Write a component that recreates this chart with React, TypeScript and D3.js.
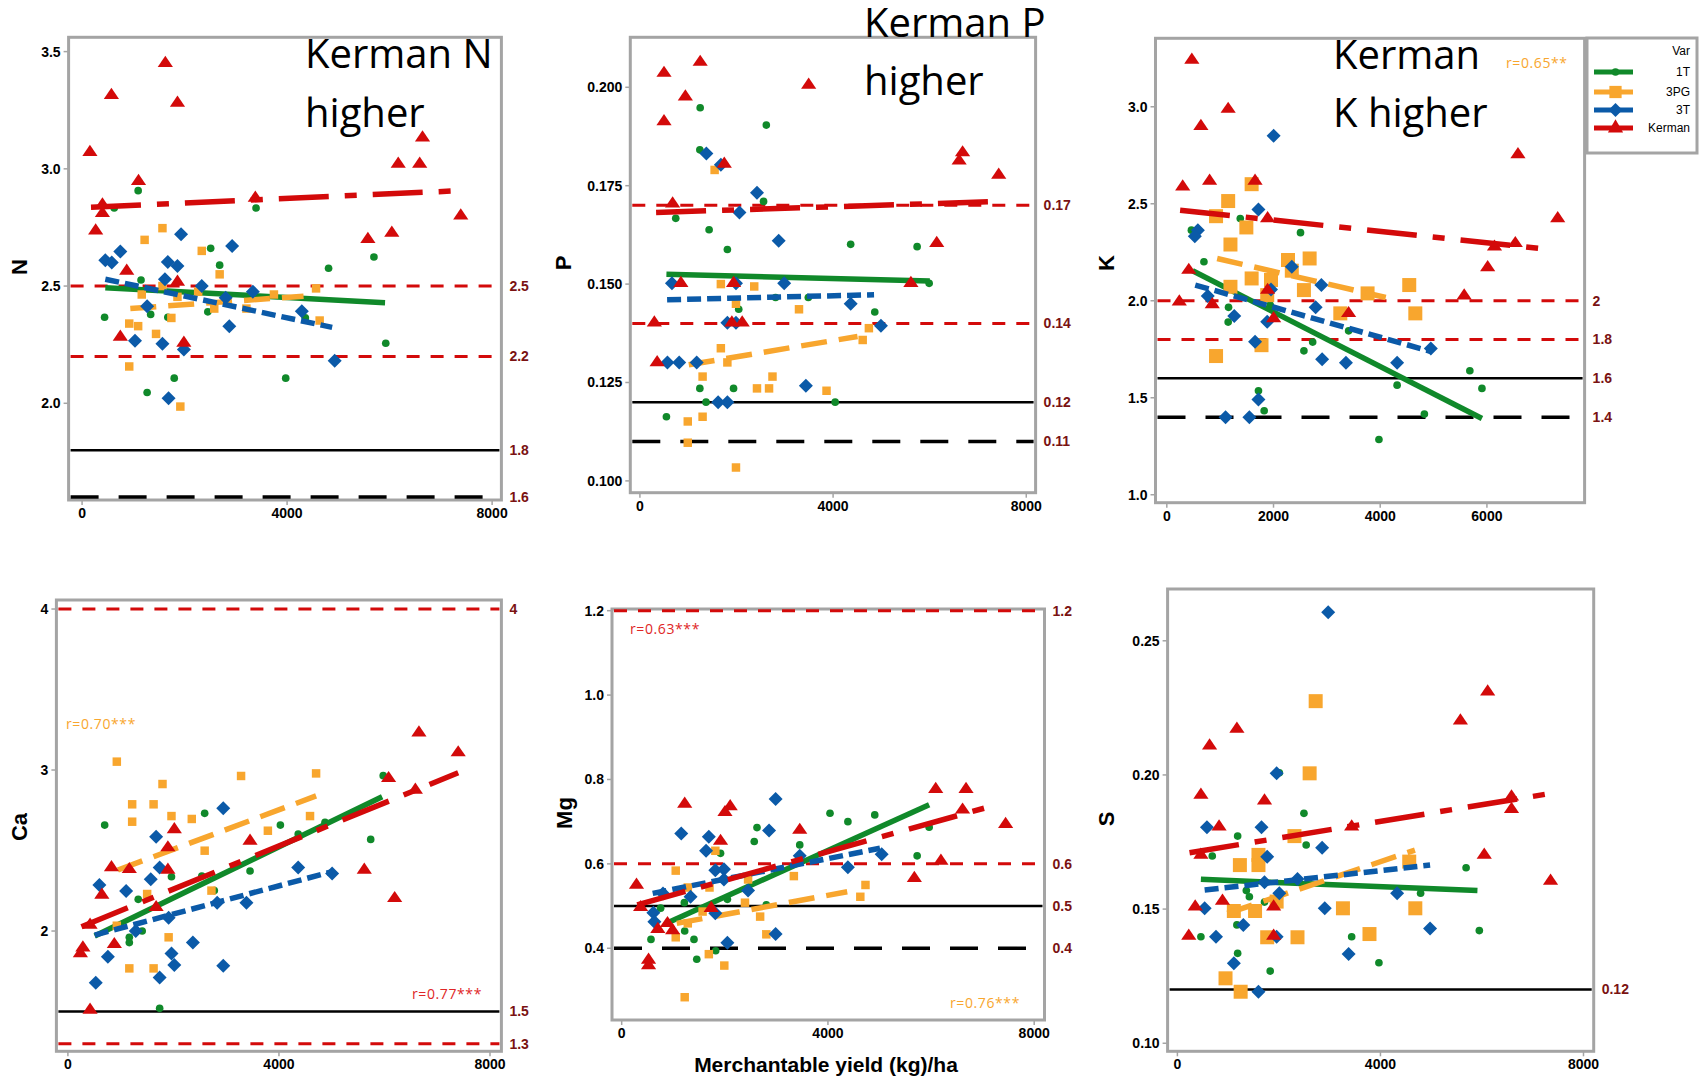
import React from "react"
import * as d3 from "d3"

// colours of the four varieties
const GREEN = "#10892a"
const ORANGE = "#f8a62e"
const BLUE = "#0b5aa8"
const RED = "#d30a0a"
const REFLABEL = "#7a1212"

const varieties = ["1T", "3PG", "3T", "Kerman"]
const xTicks = [0, 4000, 8000]
const xTicksK = [0, 2000, 4000, 6000]

// ---- N ----
const nT1 = [[1094, 2.907], [627, 2.833], [3394, 2.833], [2509, 2.661], [2684, 2.589], [4809, 2.576], [5694, 2.624], [1150, 2.526], [439, 2.367], [1338, 2.379], [1673, 2.367], [2453, 2.39], [4356, 2.364], [5925, 2.256], [1798, 2.107], [3973, 2.107], [1269, 2.046]]
const nPG = [[1568, 2.747], [1220, 2.697], [2335, 2.65], [2684, 2.55], [1568, 2.5], [1164, 2.464], [1861, 2.454], [2265, 2.476], [1742, 2.364], [920, 2.34], [1094, 2.329], [1443, 2.296], [2579, 2.404], [3206, 2.404], [3743, 2.464], [4565, 2.49], [4635, 2.353], [920, 2.157], [1917, 1.986]]
const nT3 = [[453, 2.61], [579, 2.6], [746, 2.647], [1931, 2.721], [2927, 2.671], [1673, 2.603], [1861, 2.586], [1617, 2.529], [2335, 2.5], [3332, 2.476], [2802, 2.45], [1269, 2.414], [4287, 2.393], [1032, 2.267], [1568, 2.254], [1986, 2.229], [2872, 2.329], [4928, 2.181], [1687, 2.021]]
const nKer = [[1624, 3.45], [572, 3.314], [1861, 3.281], [153, 3.071], [1101, 2.947], [6642, 3.133], [6168, 3.021], [6587, 3.021], [397, 2.847], [397, 2.81], [265, 2.736], [3380, 2.876], [7388, 2.8], [5576, 2.7], [6043, 2.726], [871, 2.564], [1861, 2.517], [746, 2.283], [1986, 2.257]]
const nFits = [[453, 2.493, 5911, 2.429], [941, 2.404, 4321, 2.457], [453, 2.529, 4879, 2.324], [174, 2.836, 7388, 2.907]]

// ---- P ----
const pT1 = [[1248, 0.1948], [2617, 0.1904], [1241, 0.1841], [2560, 0.171], [742, 0.1667], [1433, 0.1638], [1811, 0.1588], [4364, 0.1601], [5740, 0.1595], [5989, 0.1502], [2809, 0.1466], [3487, 0.1466], [2046, 0.1436], [4863, 0.1429], [1241, 0.1235], [1939, 0.1235], [1369, 0.12], [4043, 0.12], [549, 0.1163]]
const pPG = [[1547, 0.179], [1676, 0.15], [2367, 0.1494], [1989, 0.145], [3294, 0.1436], [4741, 0.1388], [4613, 0.1358], [1676, 0.1337], [1811, 0.1301], [1298, 0.1265], [2745, 0.1265], [2424, 0.1235], [2674, 0.1235], [3864, 0.1229], [991, 0.1151], [1298, 0.1163], [991, 0.1097], [1989, 0.1034]]
const pT3 = [[1376, 0.1832], [1676, 0.1803], [2424, 0.1732], [2061, 0.1682], [2873, 0.161], [663, 0.1502], [1989, 0.1502], [2987, 0.1502], [4364, 0.145], [1811, 0.1402], [1989, 0.1402], [4991, 0.1394], [570, 0.1301], [813, 0.1301], [1176, 0.1301], [3437, 0.1242], [1619, 0.12], [1811, 0.12]]
const pKer = [[1248, 0.2064], [499, 0.2036], [941, 0.1976], [499, 0.1913], [3494, 0.2006], [1747, 0.1805], [6681, 0.1834], [6610, 0.1813], [7429, 0.1777], [677, 0.1704], [6146, 0.1604], [848, 0.1502], [1939, 0.1502], [5611, 0.1502], [299, 0.1402], [1904, 0.1402], [2118, 0.1402], [357, 0.1301]]
const pFits = [[549, 0.1525, 6003, 0.1508], [1012, 0.1295, 4506, 0.1367], [563, 0.146, 4848, 0.1473], [335, 0.1682, 7429, 0.171]]

// ---- K ----
const kT1 = [[461, 2.364], [696, 2.201], [1377, 2.424], [2506, 2.351], [1157, 1.966], [1150, 1.89], [1938, 1.978], [3408, 1.845], [2734, 1.787], [2570, 1.742], [1718, 1.536], [1825, 1.433], [4317, 1.565], [5680, 1.639], [5907, 1.548], [4828, 1.416], [3976, 1.285]]
const kPG = [[1590, 2.601], [1150, 2.514], [923, 2.436], [1491, 2.378], [1193, 2.29], [2272, 2.21], [2677, 2.218], [2343, 2.155], [1590, 2.115], [1953, 2.107], [1193, 2.072], [1882, 2.029], [2570, 2.055], [3763, 2.038], [4544, 2.081], [4658, 1.935], [3252, 1.935], [1775, 1.771], [923, 1.715]]
const kT3 = [[2002, 2.85], [1718, 2.471], [582, 2.364], [525, 2.333], [2343, 2.175], [2897, 2.081], [767, 2.024], [1953, 2.058], [2790, 1.966], [1264, 1.921], [1882, 1.892], [1654, 1.789], [2911, 1.698], [3358, 1.68], [4317, 1.68], [4949, 1.754], [1718, 1.491], [1101, 1.399], [1548, 1.399]]
const kKer = [[469, 3.241], [1150, 2.988], [639, 2.9], [298, 2.588], [802, 2.617], [1654, 2.617], [6582, 2.754], [7327, 2.424], [1889, 2.424], [412, 2.158], [234, 1.995], [852, 1.981], [1889, 2.055], [2002, 1.909], [3408, 1.935], [5574, 2.026], [6014, 2.172], [6142, 2.278], [6532, 2.296]]
const kFits = [[483, 2.155, 5907, 1.393], [944, 2.218, 4104, 2.017], [533, 2.081, 4970, 1.737], [249, 2.467, 7171, 2.265]]

// ---- Ca ----
const caT1 = [[5976, 2.965], [2592, 2.731], [4027, 2.658], [697, 2.658], [4365, 2.602], [4873, 2.675], [5739, 2.569], [3452, 2.373], [2538, 2.342], [1963, 2.337], [2775, 2.251], [1333, 2.197], [1408, 2.0], [1164, 1.961], [1164, 1.928], [1739, 1.52]]
const caPG = [[927, 3.052], [1793, 2.913], [3282, 2.963], [4704, 2.979], [1218, 2.787], [1624, 2.787], [1218, 2.679], [1963, 2.714], [2348, 2.696], [4589, 2.714], [3790, 2.623], [2592, 2.499], [2721, 2.251], [1502, 2.23], [927, 2.033], [1909, 1.961], [1164, 1.768], [1624, 1.768]]
const caT3 = [[2944, 2.762], [1672, 2.586], [4365, 2.395], [5008, 2.358], [1739, 2.395], [1570, 2.321], [596, 2.286], [1103, 2.248], [2829, 2.176], [3384, 2.176], [1909, 2.083], [1286, 2.0], [758, 1.841], [2369, 1.928], [1963, 1.861], [2017, 1.789], [2944, 1.785], [1739, 1.712], [528, 1.679]]
const caKer = [[6653, 3.232], [7397, 3.108], [6078, 2.948], [6585, 2.876], [2017, 2.631], [1895, 2.518], [3452, 2.559], [826, 2.395], [1164, 2.383], [1895, 2.379], [5617, 2.379], [643, 2.224], [6193, 2.203], [1672, 2.147], [420, 2.037], [880, 1.917], [284, 1.896], [237, 1.861], [420, 1.509]]
const caFits = [[508, 1.969, 5956, 2.834], [948, 2.379, 4704, 2.839], [508, 1.975, 5008, 2.369], [257, 2.027, 7397, 2.983]]

// ---- Mg ----
const mgT1 = [[4040, 0.72], [4387, 0.7], [4908, 0.716], [2624, 0.686], [2571, 0.653], [3453, 0.645], [5963, 0.687], [5730, 0.619], [1917, 0.625], [1215, 0.508], [2050, 0.516], [2805, 0.503], [755, 0.495], [1222, 0.441], [568, 0.421], [1402, 0.421], [1823, 0.394], [1456, 0.374]]
const mgPG = [[1816, 0.631], [1048, 0.584], [1282, 0.544], [1703, 0.544], [2451, 0.563], [3339, 0.571], [4728, 0.55], [4628, 0.522], [2391, 0.508], [1569, 0.487], [1282, 0.459], [2685, 0.475], [1048, 0.426], [2805, 0.433], [1690, 0.386], [1990, 0.359], [1222, 0.284]]
const mgT3 = [[2985, 0.754], [1155, 0.672], [1690, 0.664], [2858, 0.679], [1636, 0.631], [3453, 0.619], [5042, 0.623], [4387, 0.592], [1816, 0.585], [1983, 0.587], [1983, 0.563], [2451, 0.537], [1336, 0.522], [801, 0.53], [614, 0.484], [1816, 0.483], [634, 0.463], [2050, 0.413], [2985, 0.434]]
const mgKer = [[6090, 0.777], [6678, 0.777], [6611, 0.728], [7446, 0.694], [1222, 0.742], [2003, 0.722], [2104, 0.736], [3453, 0.68], [1917, 0.654], [6191, 0.607], [5676, 0.566], [287, 0.55], [367, 0.497], [1736, 0.495], [701, 0.445], [888, 0.459], [988, 0.442], [521, 0.372], [521, 0.359]]
const mgFits = [[935, 0.463, 5963, 0.74], [1068, 0.459, 4374, 0.534], [601, 0.53, 5009, 0.637], [301, 0.503, 7179, 0.737]]

// ---- S ----
const sT1 = [[2493, 0.1857], [1187, 0.1772], [2537, 0.1739], [687, 0.1698], [5687, 0.1654], [1358, 0.1569], [1418, 0.1546], [4791, 0.1559], [1716, 0.1526], [1172, 0.1441], [463, 0.1397], [3433, 0.1397], [5948, 0.142], [1187, 0.1335], [3970, 0.13], [1828, 0.1269], [2008, 0.2008]]
const sPG = [[2724, 0.2275], [2605, 0.2006], [2306, 0.1772], [1231, 0.1664], [1597, 0.1702], [1597, 0.1664], [4567, 0.1677], [1955, 0.1528], [1112, 0.1493], [1530, 0.1493], [3261, 0.1503], [4687, 0.1503], [1769, 0.1395], [2366, 0.1395], [3784, 0.1407], [948, 0.1242], [1246, 0.1192]]
const sT3 = [[2970, 0.2606], [1955, 0.2006], [582, 0.1805], [1657, 0.1805], [2851, 0.1729], [1769, 0.1695], [2366, 0.1612], [1716, 0.16], [2008, 0.1559], [4329, 0.1559], [537, 0.1503], [2903, 0.1503], [1299, 0.1441], [4978, 0.1428], [761, 0.1397], [1955, 0.1397], [3373, 0.1333], [1112, 0.1298], [1597, 0.1192]]
const sKer = [[6112, 0.231], [5575, 0.2202], [1172, 0.2171], [634, 0.2109], [463, 0.1925], [1716, 0.1904], [6582, 0.1919], [6582, 0.1872], [821, 0.1807], [3433, 0.1807], [463, 0.1702], [6045, 0.1702], [7351, 0.1605], [351, 0.1509], [888, 0.153], [1896, 0.1509], [224, 0.14], [1896, 0.14]]
const sFits = [[463, 0.1611, 5911, 0.1569], [985, 0.1484, 4679, 0.172], [537, 0.1571, 4978, 0.1664], [239, 0.171, 7351, 0.1931]]

// reference lines: [value, kind, label]
const nRefs = [[2.5, "red", "2.5"], [2.2, "red", "2.2"], [1.8, "black", "1.8"], [1.6, "blackDash", "1.6"]]
const pRefs = [[0.17, "red", "0.17"], [0.14, "red", "0.14"], [0.12, "black", "0.12"], [0.11, "blackDash", "0.11"]]
const kRefs = [[2.0, "red", "2"], [1.8, "red", "1.8"], [1.6, "black", "1.6"], [1.4, "blackDash", "1.4"]]
const caRefs = [[4, "red", "4"], [1.5, "black", "1.5"], [1.3, "red", "1.3"]]
const mgRefs = [[1.2, "red", "1.2"], [0.6, "red", "0.6"], [0.5, "black", "0.5"], [0.4, "blackDash", "0.4"]]
const sRefs = [[0.12, "black", "0.12"]]

const refStyle: any = {
    red: {stroke: RED, width: 3, dash: "13 11"},
    black: {stroke: "#000", width: 2.5, dash: null},
    blackDash: {stroke: "#000", width: 3.5, dash: "28 20"},
}

const varStyle: any = {
    "1T": {color: GREEN, symbol: d3.symbolCircle, size: 46, rot: 0, dash: null},
    "3PG": {color: ORANGE, symbol: d3.symbolSquare, size: 72, rot: 0, dash: "26 12"},
    "3T": {color: BLUE, symbol: d3.symbolSquare, size: 98, rot: 45, dash: "14 6"},
    "Kerman": {color: RED, symbol: d3.symbolTriangle, size: 100, rot: 0, dash: "50 16 12 16"},
}

const panels = [
    {name: "N", left: 68.6, top: 37.3, right: 501.4, bottom: 500, xd: [-263, 8181], yd: [1.5875, 3.561], yt: [2.0, 2.5, 3.0, 3.5], fmt: ".1f", xt: xTicks,
        series: [nT1, nPG, nT3, nKer], fits: nFits, refs: nRefs, ylab: [19, 267], bigSq: false},
    {name: "P", left: 630.3, top: 37.3, right: 1035.6, bottom: 492.7, xd: [-199, 8193], yd: [0.097, 0.2127], yt: [0.1, 0.125, 0.15, 0.175, 0.2], fmt: ".3f", xt: xTicks,
        series: [pT1, pPG, pT3, pKer], fits: pFits, refs: pRefs, ylab: [563, 263], bigSq: false},
    {name: "K", left: 1155.5, top: 38.3, right: 1584.6, bottom: 502.7, xd: [-212, 7831], yd: [0.959, 3.353], yt: [1.0, 1.5, 2.0, 2.5, 3.0], fmt: ".1f", xt: xTicksK,
        series: [kT1, kPG, kT3, kKer], fits: kFits, refs: kRefs, ylab: [1106, 263], bigSq: true},
    {name: "Ca", left: 56.4, top: 600, right: 501.4, bottom: 1051.3, xd: [-218, 8216], yd: [1.253, 4.056], yt: [2, 3, 4], fmt: "d", xt: xTicks,
        series: [caT1, caPG, caT3, caKer], fits: caFits, refs: caRefs, ylab: [19, 827], bigSq: false},
    {name: "Mg", left: 612, top: 609, right: 1044.5, bottom: 1020, xd: [-188, 8200], yd: [0.23, 1.204], yt: [0.4, 0.6, 0.8, 1.0, 1.2], fmt: ".1f", xt: xTicks,
        series: [mgT1, mgPG, mgT3, mgKer], fits: mgFits, refs: mgRefs, ylab: [564, 813], bigSq: false},
    {name: "S", left: 1167.6, top: 589, right: 1593.7, bottom: 1051.3, xd: [-193, 8201], yd: [0.097, 0.2693], yt: [0.1, 0.15, 0.2, 0.25], fmt: ".2f", xt: xTicks,
        series: [sT1, sPG, sT3, sKer], fits: sFits, refs: sRefs, ylab: [1106, 819], bigSq: true},
]

// r annotations: [text, colour, x, y]
const rNotes = [["r=0.65**", ORANGE, 1506, 68], ["r=0.70***", ORANGE, 66, 729], ["r=0.77***", "#e02626", 412, 999], ["r=0.63***", "#e02626", 630, 634], ["r=0.76***", ORANGE, 950, 1008]]
// big captions: [line1, line2, x, y1, y2]
const captions = [["Kerman N", "higher", 305, 68, 127], ["Kerman P", "higher", 864, 37, 95], ["Kerman", "K higher", 1333, 69, 127]]

const tickFont = {fontFamily: "Liberation Sans, Arial, sans-serif", fontWeight: 700, fontSize: 14}

const Panel = ({p}: any) => {
    const x = d3.scaleLinear().domain(p.xd).range([p.left, p.right])
    const y = d3.scaleLinear().domain(p.yd).range([p.bottom, p.top])
    const fmt = d3.format(p.fmt)
    const line = d3.line().x((d: any) => x(d[0])).y((d: any) => y(d[1]))

    return (
        <g>
            <rect x={p.left} y={p.top} width={p.right - p.left} height={p.bottom - p.top} fill="none" stroke="#a4a4a4" strokeWidth={3} />
            {p.refs.map((r: any, i: number) => {
                const s = refStyle[r[1]]
                return (
                    <g key={"r" + i}>
                        <line x1={p.left + 2} x2={p.right - 2} y1={y(r[0])} y2={y(r[0])} stroke={s.stroke} strokeWidth={s.width} strokeDasharray={s.dash || undefined} />
                        <text x={p.right + 8} y={y(r[0])} dy="0.35em" fill={REFLABEL} {...tickFont}>{r[2]}</text>
                    </g>
                )
            })}
            {varieties.map((v, vi) => {
                const st = varStyle[v]
                const size = v === "3PG" && p.bigSq ? 196 : st.size
                const sym = d3.symbol().type(st.symbol).size(size)
                const f = p.fits[vi]
                return (
                    <g key={v}>
                        {p.series[vi].map((d: number[], i: number) => (
                            <path key={i} d={sym() as string} fill={st.color}
                                transform={`translate(${x(d[0])},${y(d[1])}) rotate(${st.rot})` + (v === "Kerman" ? " scale(1,0.85)" : "")} />
                        ))}
                        <path d={line([[f[0], f[1]], [f[2], f[3]]] as any) as string} fill="none" stroke={st.color} strokeWidth={5.5}
                            strokeDasharray={st.dash || undefined} />
                    </g>
                )
            })}
            {p.yt.map((t: number) => (
                <g key={"y" + t}>
                    <line x1={p.left - 5} x2={p.left} y1={y(t)} y2={y(t)} stroke="#a4a4a4" strokeWidth={1.5} />
                    <text x={p.left - 8} y={y(t)} dy="0.35em" textAnchor="end" fill="#000" {...tickFont}>{fmt(t)}</text>
                </g>
            ))}
            {p.xt.map((t: number) => (
                <g key={"x" + t}>
                    <line x1={x(t)} x2={x(t)} y1={p.bottom} y2={p.bottom + 5} stroke="#a4a4a4" strokeWidth={1.5} />
                    <text x={x(t)} y={p.bottom + 18} textAnchor="middle" fill="#000" {...tickFont}>{t}</text>
                </g>
            ))}
            <text transform={`translate(${p.ylab[0]},${p.ylab[1]}) rotate(-90)`} textAnchor="middle" dy="0.35em"
                fontFamily="Liberation Sans, Arial, sans-serif" fontWeight={700} fontSize={22}>{p.name}</text>
        </g>
    )
}

const Legend = () => {
    const top = 38, left = 1587, right = 1697
    return (
        <g>
            <rect x={left} y={top} width={right - left} height={115} fill="#fff" stroke="#a4a4a4" strokeWidth={3} />
            <text x={1690} y={55} textAnchor="end" fontFamily="Liberation Sans, Arial, sans-serif" fontSize={12}>Var</text>
            {varieties.map((v, i) => {
                const st = varStyle[v]
                const yy = [72, 92, 110, 128][i]
                const sym = d3.symbol().type(st.symbol).size(v === "3PG" ? 150 : st.size)
                return (
                    <g key={v}>
                        <line x1={1594} x2={1633} y1={yy} y2={yy} stroke={st.color} strokeWidth={5} />
                        <path d={sym() as string} fill={st.color} transform={`translate(1615.5,${yy}) rotate(${st.rot})`} />
                        <text x={1690} y={yy} dy="0.35em" textAnchor="end" fontFamily="Liberation Sans, Arial, sans-serif" fontSize={12}>{v}</text>
                    </g>
                )
            })}
        </g>
    )
}

export default function App() {
    return (
        <svg width={1704} height={1077} style={{position: "absolute", left: 0, top: 0, background: "#fff"}}>
            {panels.map(p => <Panel key={p.name} p={p} />)}
            <Legend />
            {rNotes.map((r: any, i) => (
                <text key={i} x={r[2]} y={r[3]} fill={r[1]} fontFamily="Open Sans, sans-serif" fontSize={14} letterSpacing={0.6}>{r[0]}</text>
            ))}
            {captions.map((c: any, i) => (
                <g key={i} fontFamily="Open Sans, sans-serif" fontSize={40} fill="#000">
                    <text x={c[2]} y={c[3]}>{c[0]}</text>
                    <text x={c[2]} y={c[4]}>{c[1]}</text>
                </g>
            ))}
            <text x={826} y={1072} textAnchor="middle" fontFamily="Liberation Sans, Arial, sans-serif" fontWeight={700} fontSize={21}>Merchantable yield (kg)/ha</text>
        </svg>
    )
}
